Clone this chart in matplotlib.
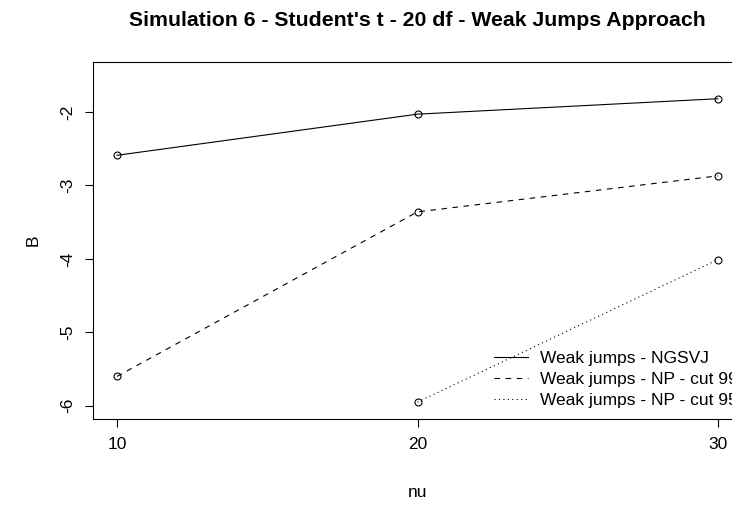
import matplotlib
matplotlib.use('Agg')
import matplotlib.pyplot as plt


NU = [10, 20, 30]
NGSVJ = [-2.59, -2.03, -1.82]
NP_CUT99 = [-5.60, -3.36, -2.87]
NU_CUT95 = [20, 30]
NP_CUT95 = [-5.95, -4.01]

LABELS = ['Weak jumps - NGSVJ', 'Weak jumps - NP - cut 99', 'Weak jumps - NP - cut 95']


def main():
    plt.rcParams['font.family'] = ['Liberation Sans', 'DejaVu Sans']

    fig = plt.figure(figsize=(7.32, 5.05), dpi=100)
    # plot region runs past the right edge like the original (legend is clipped there too)
    ax = fig.add_axes([93 / 732, 1 - 419 / 505, 649 / 732, 357 / 505])

    mk = dict(marker='o', markersize=5, markerfacecolor='none', markeredgecolor='black',
              markeredgewidth=0.8, color='black', linewidth=0.8)
    ax.plot(NU, NGSVJ, linestyle='-', label=LABELS[0], **mk)
    ax.plot(NU, NP_CUT99, linestyle=(0, (5, 5)), label=LABELS[1], **mk)
    ax.plot(NU_CUT95, NP_CUT95, linestyle=(0, (1, 3)), label=LABELS[2], **mk)

    ax.set_xlim(9.2, 30.8)
    ax.set_ylim(-6.18, -1.32)
    ax.set_xticks([10, 20, 30])
    ax.set_yticks([-2, -3, -4, -5, -6])
    ax.set_yticklabels(['-2', '-3', '-4', '-5', '-6'], rotation=90, va='center')
    ax.tick_params(direction='out', length=6, width=0.8, labelsize=12.5, pad=7)
    for s in ax.spines.values():
        s.set_linewidth(0.8)

    ax.set_xlabel('nu', fontsize=12.5, labelpad=24)
    ax.set_ylabel('B', fontsize=12.5, labelpad=14)
    fig.suptitle("Simulation 6 - Student's t - 20 df - Weak Jumps Approach",
                 fontsize=15.3, fontweight='bold', x=(93 + 649 / 2) / 732, y=1 - 20 / 505, va='center')

    ax.legend(loc='upper left', bbox_to_anchor=((487 - 93) / 649, (419 - 344) / 357), frameon=False,
              fontsize=12.5, handlelength=1.96, handletextpad=0.72, labelspacing=0.33,
              borderaxespad=0, markerscale=0)

    fig.savefig('out.png', dpi=100)


if __name__ == '__main__':
    main()
